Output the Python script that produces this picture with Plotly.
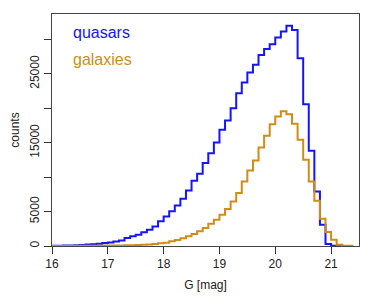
import numpy as np
import plotly.graph_objects as go

bin_start = 16.0
bin_width = 0.1

quasar_counts = [30, 40, 60, 80, 110, 150, 200, 260, 330, 420,
                 520, 650, 800, 1150, 1400, 1640, 1980, 2370, 2850, 3580,
                 4300, 5030, 5900, 6870, 8080, 9480, 10490, 12040, 13490, 15040,
                 16880, 18230, 20020, 22200, 23740, 25200, 26310, 27760, 28630, 29300,
                 30270, 31140, 32010, 31390, 27270, 20600, 13830, 7930, 3100, 290,
                 20, 0]

galaxy_counts = [10, 12, 15, 18, 22, 27, 33, 40, 48, 55,
                 60, 70, 80, 95, 110, 135, 170, 220, 290, 390,
                 480, 680, 870, 1110, 1400, 1740, 2130, 2610, 3240, 3820,
                 4550, 5370, 6480, 7690, 9380, 10980, 12430, 14310, 16010, 17700,
                 18810, 19590, 19150, 17750, 15430, 12530, 9380, 6580, 3970, 2030,
                 920, 190, 50, 20]

x_ticks = [16, 17, 18, 19, 20, 21]
y_ticks = [0, 5000, 10000, 15000, 20000, 25000, 30000]
y_ticktext = ["0", "5000", "", "15000", "", "25000", ""]

BLUE = "#1414ff"
ORANGE = "#d08c14"


def step_xy(counts):
    n = len(counts)
    edges = bin_start + bin_width * np.arange(n + 1)
    ys = list(counts) + [counts[-1]]
    return edges, ys


fig = go.Figure()
for counts, color in [(quasar_counts, BLUE), (galaxy_counts, ORANGE)]:
    xs, ys = step_xy(counts)
    fig.add_trace(go.Scatter(x=xs, y=ys, mode="lines", line_shape="hv",
                             line=dict(color=color, width=2), showlegend=False,
                             hoverinfo="skip"))

font = "Liberation Sans, Arial, Helvetica, sans-serif"

fig.add_annotation(text="quasars", xref="paper", yref="paper", x=0.062, y=0.922,
                   xanchor="left", yanchor="middle", showarrow=False,
                   font=dict(size=16, color=BLUE, family=font))
fig.add_annotation(text="galaxies", xref="paper", yref="paper", x=0.062, y=0.802,
                   xanchor="left", yanchor="middle", showarrow=False,
                   font=dict(size=16, color=ORANGE, family=font))

# page body has an 8px default margin, so offset the plot area accordingly
fig.update_layout(
    width=374, height=299,
    margin=dict(l=44, r=23, t=6, b=61),
    paper_bgcolor="white", plot_bgcolor="white",
    font=dict(family=font, size=12, color="#222"),
)
fig.update_xaxes(range=[16, 21.5], tickvals=x_ticks, ticks="outside", ticklen=7,
                 tickcolor="#333", showline=True, linecolor="#444", mirror=True,
                 showgrid=False, zeroline=False, automargin=False,
                 title=dict(text="G [mag]", standoff=10, font=dict(size=12)),
                 tickfont=dict(size=12))
fig.update_yaxes(range=[0, 33700], tickvals=y_ticks, ticktext=y_ticktext,
                 ticks="outside", ticklen=7, tickcolor="#333", tickangle=-90,
                 showline=True, linecolor="#444", mirror=True,
                 showgrid=False, zeroline=False, automargin=False,
                 title=dict(text="counts", standoff=6, font=dict(size=12)),
                 tickfont=dict(size=12))

fig.write_html("out.html")
